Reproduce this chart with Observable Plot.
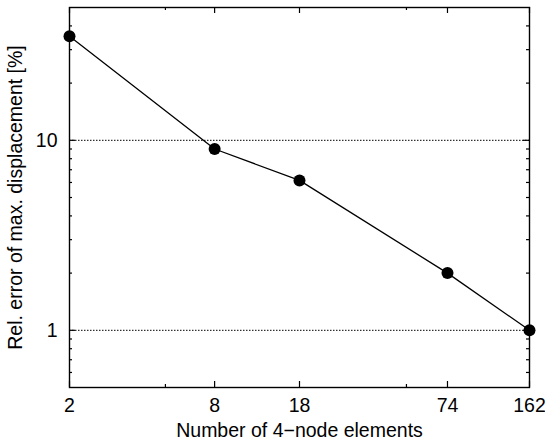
<!DOCTYPE html>
<html>
<head>
<meta charset="utf-8">
<script src="https://cdn.jsdelivr.net/npm/d3@7"></script>
<script src="https://cdn.jsdelivr.net/npm/@observablehq/plot@0.6"></script>
<style>
  html, body { margin: 0; padding: 0; background: white; }
</style>
</head>
<body>
<div id="chart"></div>
<script>
const elements = [2, 8, 18, 74, 162];
const relError = [35.3, 9.0, 6.15, 2.0, 1.0];
const xTickLabels = [2, 8, 18, 74, 162];
const xMinorTicks = [5, 50];
const yTickLabels = [1, 10];
const yMinorTicks = [0.6, 0.7, 0.8, 0.9, 2, 3, 4, 5, 6, 7, 8, 9, 20, 30, 40];
const gridValues = [1, 10];
const xLabel = "Number of 4\u2212node elements";
const yLabel = "Rel. error of max. displacement [%]";

const data = elements.map((x, i) => ({x, y: relError[i]}));

const W = 545, H = 445, mL = 69, mR = 16, mT = 7, mB = 58;
const innerW = W - mL - mR, innerH = H - mT - mB;
const major = 6, minor = 3;
const FS = 19.5;

const chart = Plot.plot({
  width: W, height: H,
  marginLeft: mL, marginRight: mR, marginTop: mT, marginBottom: mB,
  x: {type: "log", domain: [2, 162], axis: null},
  y: {type: "log", domain: [0.5, 50], axis: null},
  style: {fontFamily: "'Liberation Sans', Arial, Helvetica, sans-serif", fontSize: FS + "px", color: "black", background: "white"},
  marks: [
    Plot.ruleY(gridValues, {y: d => d, stroke: "black", strokeWidth: 1, strokeDasharray: "1.5,1.5"}),
    // x ticks bottom & top
    Plot.tickX(xTickLabels, {x: d => d, insetTop: innerH - major, stroke: "black", strokeWidth: 1.2}),
    Plot.tickX(xTickLabels, {x: d => d, insetBottom: innerH - major, stroke: "black", strokeWidth: 1.2}),
    Plot.tickX(xMinorTicks, {x: d => d, insetTop: innerH - minor, stroke: "black", strokeWidth: 1.2}),
    Plot.tickX(xMinorTicks, {x: d => d, insetBottom: innerH - minor, stroke: "black", strokeWidth: 1.2}),
    // y ticks left & right
    Plot.tickY(yTickLabels, {y: d => d, insetRight: innerW - major, stroke: "black", strokeWidth: 1.2}),
    Plot.tickY(yTickLabels, {y: d => d, insetLeft: innerW - major, stroke: "black", strokeWidth: 1.2}),
    Plot.tickY(yMinorTicks, {y: d => d, insetRight: innerW - minor, stroke: "black", strokeWidth: 1.2}),
    Plot.tickY(yMinorTicks, {y: d => d, insetLeft: innerW - minor, stroke: "black", strokeWidth: 1.2}),
    Plot.frame({stroke: "black", strokeWidth: 1.4}),
    // tick labels
    Plot.text(xTickLabels, {x: d => d, text: d => String(d), frameAnchor: "bottom", lineAnchor: "top", dy: 11, fontSize: FS}),
    Plot.text(yTickLabels, {y: d => d, text: d => String(d), frameAnchor: "left", textAnchor: "end", dx: -12, fontSize: FS}),
    // axis titles
    Plot.text([xLabel], {text: d => d, frameAnchor: "bottom", lineAnchor: "top", dy: 36, fontSize: FS}),
    Plot.text([yLabel], {text: d => d, frameAnchor: "left", textAnchor: "middle", lineAnchor: "top", rotate: -90, dx: -61, fontSize: FS}),
    Plot.line(data, {x: "x", y: "y", stroke: "black", strokeWidth: 1.3}),
    Plot.dot(data, {x: "x", y: "y", r: 6, fill: "black", stroke: "none"})
  ]
});
document.getElementById("chart").appendChild(chart);
</script>
</body>
</html>
